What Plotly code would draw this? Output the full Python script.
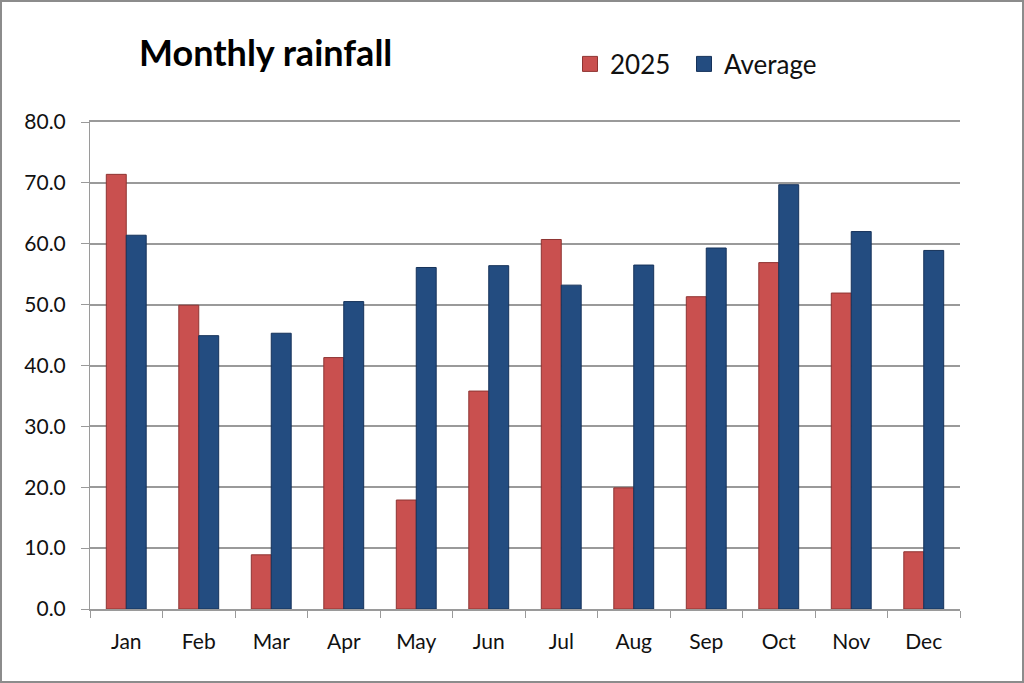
import plotly.graph_objects as go

months = ["Jan", "Feb", "Mar", "Apr", "May", "Jun", "Jul", "Aug", "Sep", "Oct", "Nov", "Dec"]
rain_2025 = [71.4, 49.9, 8.9, 41.3, 17.9, 35.8, 60.7, 19.9, 51.3, 56.9, 51.9, 9.4]
rain_avg = [61.4, 44.9, 45.3, 50.5, 56.1, 56.4, 53.2, 56.5, 59.3, 69.7, 62.0, 58.9]
y_ticks = [0, 10, 20, 30, 40, 50, 60, 70, 80]

W, H = 1024, 683
ML, MR, MT, MB = 90, 64, 122, 74
PW, PH = W - ML - MR, H - MT - MB

font = "Lato, Open Sans, sans-serif"
RED, RED_EDGE = "#C9504F", "#8E3432"
BLUE, BLUE_EDGE = "#234C80", "#16325A"

fig = go.Figure()
fig.add_trace(go.Bar(
    x=months, y=rain_2025, name="2025", showlegend=False,
    marker=dict(color=RED, line=dict(color=RED_EDGE, width=1)),
))
fig.add_trace(go.Bar(
    x=months, y=rain_avg, name="Average", showlegend=False,
    marker=dict(color=BLUE, line=dict(color=BLUE_EDGE, width=1)),
))
# legend entries with larger square swatches
fig.add_trace(go.Scatter(
    x=[None], y=[None], mode="markers", name="2025", legend="legend",
    marker=dict(symbol="square", size=15, color=RED, line=dict(color=RED_EDGE, width=1)),
))
fig.add_trace(go.Scatter(
    x=[None], y=[None], mode="markers", name="Average", legend="legend2",
    marker=dict(symbol="square", size=15, color=BLUE, line=dict(color=BLUE_EDGE, width=1)),
))

legend_common = dict(
    orientation="h", xanchor="left",
    y=(H - MB - 64) / PH, yanchor="middle",
    font=dict(size=26, family=font), itemwidth=30,
    bgcolor="rgba(0,0,0,0)",
)

fig.update_layout(
    width=W, height=H,
    margin=dict(l=ML, r=MR, t=MT, b=MB),
    paper_bgcolor="white", plot_bgcolor="white",
    barmode="group", bargap=0.45, bargroupgap=0,
    font=dict(family=font, size=21, color="#111111"),
    showlegend=True,
    legend=dict(x=(570 - ML) / PW, **legend_common),
    legend2=dict(x=(684 - ML) / PW, **legend_common),
    xaxis=dict(
        type="category",
        showline=True, linecolor="#9A9A9A", linewidth=1.5, mirror=True,
        ticks="outside", tickson="boundaries", ticklen=7, tickcolor="#9A9A9A",
        tickfont=dict(size=21, family=font), showgrid=False,
        ticklabelstandoff=13,
    ),
    yaxis=dict(
        range=[0, 80], tickvals=y_ticks, tickformat=".1f",
        showline=True, linecolor="#9A9A9A", linewidth=1,
        ticks="outside", ticklen=8, tickcolor="#9A9A9A",
        showgrid=True, gridcolor="#9A9A9A", gridwidth=1.5,
        tickfont=dict(size=21, family=font), zeroline=False,
        ticklabelstandoff=11,
    ),
)

fig.add_annotation(
    text="<b>Monthly rainfall</b>", xref="paper", yref="paper",
    x=(137 - ML) / PW, y=(H - MB - 52) / PH, xanchor="left", yanchor="middle",
    showarrow=False, font=dict(size=36, family=font, color="black"),
)

fig.add_shape(
    type="rect", xref="paper", yref="paper",
    x0=-(ML - 1) / PW, x1=1 + (MR - 1) / PW,
    y0=-(MB - 1) / PH, y1=1 + (MT - 1) / PH,
    line=dict(color="#8C8C8C", width=2), layer="below",
)

fig.write_html("out.html")
